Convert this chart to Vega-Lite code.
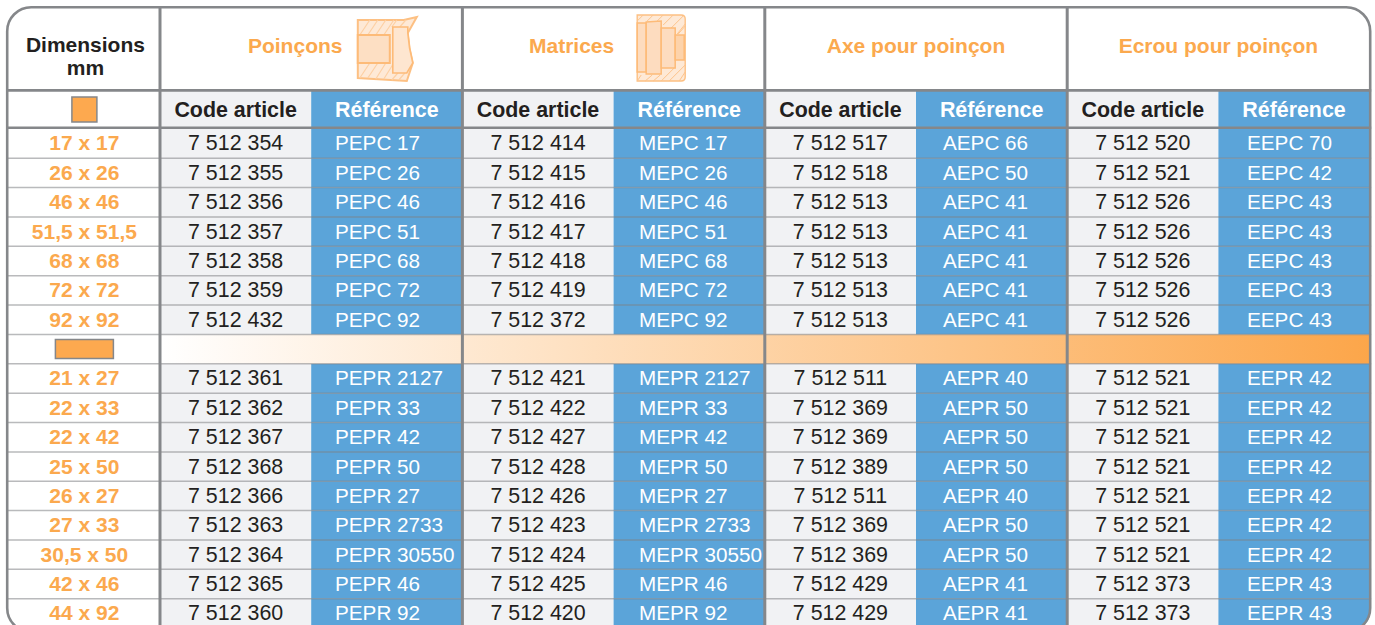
{
"$schema":"https://vega.github.io/schema/vega-lite/v6.json",
"width":1375,"height":625,"padding":0,"autosize":{"type":"none"},"background":"white",
"config":{"view":{"stroke":null},"font":"Liberation Sans","text":{"font":"Liberation Sans"}},
"datasets":{
"table":[
{"dim":"17 x 17","c1":"7 512 354","r1":"PEPC 17","c2":"7 512 414","r2":"MEPC 17","c3":"7 512 517","r3":"AEPC 66","c4":"7 512 520","r4":"EEPC 70"},
{"dim":"26 x 26","c1":"7 512 355","r1":"PEPC 26","c2":"7 512 415","r2":"MEPC 26","c3":"7 512 518","r3":"AEPC 50","c4":"7 512 521","r4":"EEPC 42"},
{"dim":"46 x 46","c1":"7 512 356","r1":"PEPC 46","c2":"7 512 416","r2":"MEPC 46","c3":"7 512 513","r3":"AEPC 41","c4":"7 512 526","r4":"EEPC 43"},
{"dim":"51,5 x 51,5","c1":"7 512 357","r1":"PEPC 51","c2":"7 512 417","r2":"MEPC 51","c3":"7 512 513","r3":"AEPC 41","c4":"7 512 526","r4":"EEPC 43"},
{"dim":"68 x 68","c1":"7 512 358","r1":"PEPC 68","c2":"7 512 418","r2":"MEPC 68","c3":"7 512 513","r3":"AEPC 41","c4":"7 512 526","r4":"EEPC 43"},
{"dim":"72 x 72","c1":"7 512 359","r1":"PEPC 72","c2":"7 512 419","r2":"MEPC 72","c3":"7 512 513","r3":"AEPC 41","c4":"7 512 526","r4":"EEPC 43"},
{"dim":"92 x 92","c1":"7 512 432","r1":"PEPC 92","c2":"7 512 372","r2":"MEPC 92","c3":"7 512 513","r3":"AEPC 41","c4":"7 512 526","r4":"EEPC 43"},
{"dim":"21 x 27","c1":"7 512 361","r1":"PEPR 2127","c2":"7 512 421","r2":"MEPR 2127","c3":"7 512 511","r3":"AEPR 40","c4":"7 512 521","r4":"EEPR 42"},
{"dim":"22 x 33","c1":"7 512 362","r1":"PEPR 33","c2":"7 512 422","r2":"MEPR 33","c3":"7 512 369","r3":"AEPR 50","c4":"7 512 521","r4":"EEPR 42"},
{"dim":"22 x 42","c1":"7 512 367","r1":"PEPR 42","c2":"7 512 427","r2":"MEPR 42","c3":"7 512 369","r3":"AEPR 50","c4":"7 512 521","r4":"EEPR 42"},
{"dim":"25 x 50","c1":"7 512 368","r1":"PEPR 50","c2":"7 512 428","r2":"MEPR 50","c3":"7 512 389","r3":"AEPR 50","c4":"7 512 521","r4":"EEPR 42"},
{"dim":"26 x 27","c1":"7 512 366","r1":"PEPR 27","c2":"7 512 426","r2":"MEPR 27","c3":"7 512 511","r3":"AEPR 40","c4":"7 512 521","r4":"EEPR 42"},
{"dim":"27 x 33","c1":"7 512 363","r1":"PEPR 2733","c2":"7 512 423","r2":"MEPR 2733","c3":"7 512 369","r3":"AEPR 50","c4":"7 512 521","r4":"EEPR 42"},
{"dim":"30,5 x 50","c1":"7 512 364","r1":"PEPR 30550","c2":"7 512 424","r2":"MEPR 30550","c3":"7 512 369","r3":"AEPR 50","c4":"7 512 521","r4":"EEPR 42"},
{"dim":"42 x 46","c1":"7 512 365","r1":"PEPR 46","c2":"7 512 425","r2":"MEPR 46","c3":"7 512 429","r3":"AEPR 41","c4":"7 512 373","r4":"EEPR 43"},
{"dim":"44 x 92","c1":"7 512 360","r1":"PEPR 92","c2":"7 512 420","r2":"MEPR 92","c3":"7 512 429","r3":"AEPR 41","c4":"7 512 373","r4":"EEPR 43"}
],
"rowlines":[{"dim":"26 x 26"},{"dim":"46 x 46"},{"dim":"51,5 x 51,5"},{"dim":"68 x 68"},{"dim":"72 x 72"},{"dim":"92 x 92"},{"dim":"rectangulaire"},{"dim":"21 x 27"},{"dim":"22 x 33"},{"dim":"22 x 42"},{"dim":"25 x 50"},{"dim":"26 x 27"},{"dim":"27 x 33"},{"dim":"30,5 x 50"},{"dim":"42 x 46"},{"dim":"44 x 92"}],
"sub":[{"col":"c1","label":"Code article"},{"col":"r1","label":"Référence"},{"col":"c2","label":"Code article"},{"col":"r2","label":"Référence"},{"col":"c3","label":"Code article"},{"col":"r3","label":"Référence"},{"col":"c4","label":"Code article"},{"col":"r4","label":"Référence"}]
},
"layer":[
{"data":{"name":"table"},"transform":[{"fold":["c1","c2","c3","c4"],"as":["col","value"]}],
 "mark":{"type":"rect","fill":"#f1f2f4"},
 "encoding":{
  "x":{"field":"col","type":"nominal","axis":null,"scale":{"type":"band","domain":["dim","c1","r1","c2","r2","c3","r3","c4","r4"],"range":[8.8,1369.6],"paddingInner":0,"paddingOuter":0}},
  "y":{"field":"dim","type":"nominal","axis":null,"sort":null,"scale":{"type":"band","domain":["17 x 17","26 x 26","46 x 46","51,5 x 51,5","68 x 68","72 x 72","92 x 92","rectangulaire","21 x 27","22 x 33","22 x 42","25 x 50","26 x 27","27 x 33","30,5 x 50","42 x 46","44 x 92"],"range":[128.8,628.1],"paddingInner":0,"paddingOuter":0}}}},
{"data":{"name":"table"},"transform":[{"fold":["r1","r2","r3","r4"],"as":["col","value"]}],
 "mark":{"type":"rect","fill":"#5ba4d9"},
 "encoding":{
  "x":{"field":"col","type":"nominal","axis":null,"scale":{"type":"band","domain":["dim","c1","r1","c2","r2","c3","r3","c4","r4"],"range":[8.8,1369.6],"paddingInner":0,"paddingOuter":0}},
  "y":{"field":"dim","type":"nominal","axis":null,"sort":null,"scale":{"type":"band","domain":["17 x 17","26 x 26","46 x 46","51,5 x 51,5","68 x 68","72 x 72","92 x 92","rectangulaire","21 x 27","22 x 33","22 x 42","25 x 50","26 x 27","27 x 33","30,5 x 50","42 x 46","44 x 92"],"range":[128.8,628.1],"paddingInner":0,"paddingOuter":0}}}},
{"data":{"values":[{"section":"produits","row":"rectangulaire"}]},
 "mark":{"type":"rect","fill":{"gradient":"linear","x1":0,"x2":1,"y1":0,"y2":0,"stops":[{"offset":0,"color":"#ffffff"},{"offset":1,"color":"#fca64a"}]}},
 "encoding":{
  "x":{"field":"section","type":"nominal","axis":null,"scale":{"type":"band","domain":["produits"],"range":[160,1369],"paddingInner":0,"paddingOuter":0}},
  "y":{"field":"row","type":"nominal","axis":null,"scale":{"type":"band","domain":["rectangulaire"],"range":[334.4,363.8],"paddingInner":0,"paddingOuter":0}}}},
{"data":{"name":"sub"},"transform":[{"filter":"indexof(datum.col,'c')===0"}],
 "mark":{"type":"rect","fill":"#f1f2f4"},
 "encoding":{
  "x":{"field":"col","type":"nominal","axis":null,"scale":{"type":"band","domain":["dim","c1","r1","c2","r2","c3","r3","c4","r4"],"range":[8.8,1369.6],"paddingInner":0,"paddingOuter":0}},
  "y":{"datum":"sous-titre","type":"nominal","axis":null,"scale":{"type":"band","domain":["sous-titre"],"range":[90.5,127.8],"paddingInner":0,"paddingOuter":0}}}},
{"data":{"name":"sub"},"transform":[{"filter":"indexof(datum.col,'r')===0"}],
 "mark":{"type":"rect","fill":"#5ba4d9"},
 "encoding":{
  "x":{"field":"col","type":"nominal","axis":null,"scale":{"type":"band","domain":["dim","c1","r1","c2","r2","c3","r3","c4","r4"],"range":[8.8,1369.6],"paddingInner":0,"paddingOuter":0}},
  "y":{"datum":"sous-titre","type":"nominal","axis":null,"scale":{"type":"band","domain":["sous-titre"],"range":[90.5,127.8],"paddingInner":0,"paddingOuter":0}}}},
{"data":{"name":"rowlines"},
 "mark":{"type":"rule","stroke":"#808285","strokeOpacity":0.55,"strokeWidth":1.5},
 "encoding":{
  "y":{"field":"dim","type":"nominal","axis":null,"bandPosition":0,"sort":null,"scale":{"type":"band","domain":["17 x 17","26 x 26","46 x 46","51,5 x 51,5","68 x 68","72 x 72","92 x 92","rectangulaire","21 x 27","22 x 33","22 x 42","25 x 50","26 x 27","27 x 33","30,5 x 50","42 x 46","44 x 92"],"range":[128.8,628.1],"paddingInner":0,"paddingOuter":0}}}},
{"data":{"values":[{"line":"a"}]},
 "mark":{"type":"rule","stroke":"#85878a","strokeWidth":2.6},
 "encoding":{"y":{"field":"line","type":"nominal","axis":null,"bandPosition":0,"scale":{"type":"band","domain":["a"],"range":[90.4,127.8],"paddingInner":0,"paddingOuter":0}}}},
{"data":{"values":[{"line":"a"}]},
 "mark":{"type":"rule","stroke":"#85878a","strokeWidth":2.6},
 "encoding":{"y":{"field":"line","type":"nominal","axis":null,"bandPosition":1,"scale":{"type":"band","domain":["a"],"range":[90.4,127.8],"paddingInner":0,"paddingOuter":0}}}},
{"data":{"values":[{"col":"c1"},{"col":"c2"},{"col":"c3"},{"col":"c4"}]},
 "mark":{"type":"rule","stroke":"#85878a","strokeWidth":3},
 "encoding":{"x":{"field":"col","type":"nominal","axis":null,"bandPosition":0,"scale":{"type":"band","domain":["dim","c1","r1","c2","r2","c3","r3","c4","r4"],"range":[8.8,1369.6],"paddingInner":0,"paddingOuter":0}}}},
{"data":{"name":"table"},"transform":[{"fold":["c1","c2","c3","c4"],"as":["col","value"]}],
 "mark":{"type":"text","fontSize":21.4,"fill":"#231f20","baseline":"middle","dy":1},
 "encoding":{
  "text":{"field":"value"},
  "x":{"field":"col","type":"nominal","axis":null,"scale":{"type":"band","domain":["dim","c1","r1","c2","r2","c3","r3","c4","r4"],"range":[8.8,1369.6],"paddingInner":0,"paddingOuter":0}},
  "y":{"field":"dim","type":"nominal","axis":null,"sort":null,"scale":{"type":"band","domain":["17 x 17","26 x 26","46 x 46","51,5 x 51,5","68 x 68","72 x 72","92 x 92","rectangulaire","21 x 27","22 x 33","22 x 42","25 x 50","26 x 27","27 x 33","30,5 x 50","42 x 46","44 x 92"],"range":[128.8,628.1],"paddingInner":0,"paddingOuter":0}}}},
{"data":{"name":"table"},"transform":[{"fold":["r1","r2","r3","r4"],"as":["col","value"]}],
 "mark":{"type":"text","fontSize":20.7,"fill":"#ffffff","baseline":"middle","align":"left","dy":1},
 "encoding":{
  "text":{"field":"value"},
  "x":{"field":"col","type":"nominal","axis":null,"bandPosition":0,"scale":{"type":"band","domain":["dim","c1","r1","c2","r2","c3","r3","c4","r4"],"range":[31,1399],"paddingInner":0,"paddingOuter":0}},
  "y":{"field":"dim","type":"nominal","axis":null,"sort":null,"scale":{"type":"band","domain":["17 x 17","26 x 26","46 x 46","51,5 x 51,5","68 x 68","72 x 72","92 x 92","rectangulaire","21 x 27","22 x 33","22 x 42","25 x 50","26 x 27","27 x 33","30,5 x 50","42 x 46","44 x 92"],"range":[128.8,628.1],"paddingInner":0,"paddingOuter":0}}}},
{"data":{"name":"table"},
 "mark":{"type":"text","fontSize":21,"fontWeight":"bold","fill":"#fba94e","baseline":"middle","dy":1},
 "encoding":{
  "text":{"field":"dim"},
  "x":{"datum":"dim","type":"nominal","axis":null,"scale":{"type":"band","domain":["dim","c1","r1","c2","r2","c3","r3","c4","r4"],"range":[8.8,1369.6],"paddingInner":0,"paddingOuter":0}},
  "y":{"field":"dim","type":"nominal","axis":null,"sort":null,"scale":{"type":"band","domain":["17 x 17","26 x 26","46 x 46","51,5 x 51,5","68 x 68","72 x 72","92 x 92","rectangulaire","21 x 27","22 x 33","22 x 42","25 x 50","26 x 27","27 x 33","30,5 x 50","42 x 46","44 x 92"],"range":[128.8,628.1],"paddingInner":0,"paddingOuter":0}}}},
{"data":{"values":[{"col":"dim","dim":"rectangulaire"}]},
 "mark":{"type":"rect","fill":"#fda94f","stroke":"#85878a","strokeWidth":1.5,"width":58,"height":19},
 "encoding":{
  "x":{"field":"col","type":"nominal","axis":null,"scale":{"type":"band","domain":["dim","c1","r1","c2","r2","c3","r3","c4","r4"],"range":[8.8,1369.6],"paddingInner":0,"paddingOuter":0}},
  "y":{"field":"dim","type":"nominal","axis":null,"sort":null,"scale":{"type":"band","domain":["17 x 17","26 x 26","46 x 46","51,5 x 51,5","68 x 68","72 x 72","92 x 92","rectangulaire","21 x 27","22 x 33","22 x 42","25 x 50","26 x 27","27 x 33","30,5 x 50","42 x 46","44 x 92"],"range":[128.8,628.1],"paddingInner":0,"paddingOuter":0}}}},
{"data":{"values":[{"col":"dim"}]},
 "mark":{"type":"rect","fill":"#fda94f","stroke":"#85878a","strokeWidth":1.5,"width":25,"height":25},
 "encoding":{
  "x":{"field":"col","type":"nominal","axis":null,"scale":{"type":"band","domain":["dim","c1","r1","c2","r2","c3","r3","c4","r4"],"range":[8.8,1369.6],"paddingInner":0,"paddingOuter":0}},
  "y":{"datum":"sous-titre","type":"nominal","axis":null,"scale":{"type":"band","domain":["sous-titre"],"range":[91,128],"paddingInner":0,"paddingOuter":0}}}},
{"data":{"name":"sub"},
 "mark":{"type":"text","fontSize":21.4,"fontWeight":"bold","baseline":"middle","dy":2},
 "encoding":{
  "text":{"field":"label"},
  "color":{"field":"label","type":"nominal","legend":null,"scale":{"domain":["Code article","Référence"],"range":["#231f20","#ffffff"]}},
  "x":{"field":"col","type":"nominal","axis":null,"scale":{"type":"band","domain":["dim","c1","r1","c2","r2","c3","r3","c4","r4"],"range":[8.8,1369.6],"paddingInner":0,"paddingOuter":0}},
  "y":{"datum":"sous-titre","type":"nominal","axis":null,"scale":{"type":"band","domain":["sous-titre"],"range":[90.5,127.8],"paddingInner":0,"paddingOuter":0}}}},
{"data":{"values":[{"col":"dim","label":"Dimensions\nmm"}]},
 "mark":{"type":"text","fontSize":21,"fontWeight":"bold","fill":"#231f20","baseline":"middle","lineBreak":"\n","lineHeight":23,"dy":-3,"dx":1},
 "encoding":{
  "text":{"field":"label"},
  "x":{"field":"col","type":"nominal","axis":null,"scale":{"type":"band","domain":["dim","c1","r1","c2","r2","c3","r3","c4","r4"],"range":[8.8,1369.6],"paddingInner":0,"paddingOuter":0}},
  "y":{"datum":"titre","type":"nominal","axis":null,"scale":{"type":"band","domain":["titre"],"range":[7,90.5],"paddingInner":0,"paddingOuter":0}}}},
{"data":{"values":[{"group":"g3","label":"Axe pour poinçon"},{"group":"g4","label":"Ecrou pour poinçon"}]},
 "mark":{"type":"text","fontSize":21,"fontWeight":"bold","fill":"#fba94e","baseline":"middle","dy":-2},
 "encoding":{
  "text":{"field":"label"},
  "x":{"field":"group","type":"nominal","axis":null,"scale":{"type":"band","domain":["g1","g2","g3","g4"],"range":[160,1369.6],"paddingInner":0,"paddingOuter":0}},
  "y":{"datum":"titre","type":"nominal","axis":null,"scale":{"type":"band","domain":["titre"],"range":[7,90.5],"paddingInner":0,"paddingOuter":0}}}},
{"data":{"values":[{"group":"g1","label":"Poinçons"}]},
 "mark":{"type":"text","fontSize":21,"fontWeight":"bold","fill":"#fba94e","baseline":"middle","dy":-2,"dx":-16},
 "encoding":{
  "text":{"field":"label"},
  "x":{"field":"group","type":"nominal","axis":null,"scale":{"type":"band","domain":["g1","g2","g3","g4"],"range":[160,1369.6],"paddingInner":0,"paddingOuter":0}},
  "y":{"datum":"titre","type":"nominal","axis":null,"scale":{"type":"band","domain":["titre"],"range":[7,90.5],"paddingInner":0,"paddingOuter":0}}}},
{"data":{"values":[{"group":"g2","label":"Matrices"}]},
 "mark":{"type":"text","fontSize":21,"fontWeight":"bold","fill":"#fba94e","baseline":"middle","dy":-2,"dx":-42},
 "encoding":{
  "text":{"field":"label"},
  "x":{"field":"group","type":"nominal","axis":null,"scale":{"type":"band","domain":["g1","g2","g3","g4"],"range":[160,1369.6],"paddingInner":0,"paddingOuter":0}},
  "y":{"datum":"titre","type":"nominal","axis":null,"scale":{"type":"band","domain":["titre"],"range":[7,90.5],"paddingInner":0,"paddingOuter":0}}}},
{"data":{"values":[{"col":"r1"}]},
 "layer":[
  {"mark":{"type":"point","size":4,"opacity":1,"fill":"#fee9d6","stroke":"#fdc083","strokeWidth":2,"shape":"M-29,-28L17,-28L30,-31L21,-15Q22,0 26,15L20,33L-29,30Z"},"encoding":{}},
  {"mark":{"type":"point","size":4,"opacity":1,"fill":"transparent","stroke":"#fdd0a4","strokeWidth":1.2,"shape":"M-27,-13L-17,-28M-19,-13L-9,-28M-11,-13L-1,-28M-3,-13L7,-28M5,-21L10,-28M13,-21L19,-28M-27,30L-17,15M-19,30L-9,15M-11,31L-1,15M-3,31L7,15M5,32L11,25M12,32L18,25"},"encoding":{}},
  {"mark":{"type":"point","size":4,"opacity":1,"fill":"#fddfc3","stroke":"#fdbb78","strokeWidth":2,"shape":"M-29,-13L3,-13L3,15L-29,15Z"},"encoding":{}},
  {"mark":{"type":"point","size":4,"opacity":1,"fill":"#fee6d0","stroke":"#fdbb78","strokeWidth":1.6,"shape":"M6,-21L21,-21L21,-15Q22,0 26,15L20,25L6,25Z"},"encoding":{}}
 ],
 "encoding":{
  "x":{"field":"col","type":"nominal","axis":null,"scale":{"type":"band","domain":["dim","c1","r1","c2","r2","c3","r3","c4","r4"],"range":[8.8,1369.6],"paddingInner":0,"paddingOuter":0}},
  "y":{"datum":"titre","type":"nominal","axis":null,"scale":{"type":"band","domain":["titre"],"range":[6,90],"paddingInner":0,"paddingOuter":0}}}},
{"data":{"values":[{"col":"r2"}]},
 "layer":[
  {"mark":{"type":"point","size":4,"opacity":1,"xOffset":-28,"fill":"#fee9d6","stroke":"#fdc083","strokeWidth":1.4,"shape":"M-24,-33L20,-33Q24,-33 24,-29L24,29Q24,33 20,33L-24,33Z"},"encoding":{}},
  {"mark":{"type":"point","size":4,"opacity":1,"xOffset":-28,"fill":"transparent","stroke":"#fdc48c","strokeWidth":1,"shape":"M-24,-27L-18,-33M-14,-27L-8,-33M-4,-27L2,-33M2,-23L12,-33M10,-20L22,-32M16,-14L24,-24M17,-14L24,-22M-24,33L-20,27M-16,33L-9,27M-8,33L-1,27M0,33L13,20M8,33L24,17M18,33L24,24"},"encoding":{}},
  {"mark":{"type":"point","size":4,"opacity":1,"xOffset":-28,"fill":"#fddcbf","stroke":"#fdbb78","strokeWidth":1.5,"shape":"M-24,-25L-15,-25L-15,24L-24,24Z"},"encoding":{}},
  {"mark":{"type":"point","size":4,"opacity":1,"xOffset":-28,"fill":"#fddcbf","stroke":"#fdbb78","strokeWidth":1.5,"shape":"M-15,-26L0,-27L0,26L-15,26Z"},"encoding":{}},
  {"mark":{"type":"point","size":4,"opacity":1,"xOffset":-28,"fill":"#fddcbf","stroke":"#fdbb78","strokeWidth":1.5,"shape":"M0,-20L14,-20L14,20L0,20Z"},"encoding":{}},
  {"mark":{"type":"point","size":4,"opacity":1,"xOffset":-28,"fill":"#fdd3ab","stroke":"#fdbb78","strokeWidth":1.5,"shape":"M14,-13L23,-13L23,12L14,12Z"},"encoding":{}}
 ],
 "encoding":{
  "x":{"field":"col","type":"nominal","axis":null,"scale":{"type":"band","domain":["dim","c1","r1","c2","r2","c3","r3","c4","r4"],"range":[8.8,1369.6],"paddingInner":0,"paddingOuter":0}},
  "y":{"datum":"titre","type":"nominal","axis":null,"scale":{"type":"band","domain":["titre"],"range":[6,90],"paddingInner":0,"paddingOuter":0}}}},
{"data":{"values":[{"box":"masque"}]},
 "mark":{"type":"rect","fill":"transparent","stroke":"#ffffff","strokeWidth":24,"cornerRadius":37},
 "encoding":{
  "x":{"field":"box","type":"nominal","axis":null,"scale":{"type":"band","domain":["masque"],"range":[-5.8,1383.2],"paddingInner":0,"paddingOuter":0}},
  "y":{"field":"box","type":"nominal","axis":null,"scale":{"type":"band","domain":["masque"],"range":[-5.8,645],"paddingInner":0,"paddingOuter":0}}}},
{"data":{"values":[{"box":"cadre"}]},
 "mark":{"type":"rect","fill":"transparent","stroke":"#85878a","strokeWidth":2.6,"cornerRadius":24},
 "encoding":{
  "x":{"field":"box","type":"nominal","axis":null,"scale":{"type":"band","domain":["cadre"],"range":[7.2,1370.2],"paddingInner":0,"paddingOuter":0}},
  "y":{"field":"box","type":"nominal","axis":null,"scale":{"type":"band","domain":["cadre"],"range":[7.2,632],"paddingInner":0,"paddingOuter":0}}}}
],
"resolve":{"scale":{"x":"independent","y":"independent"}}
}
